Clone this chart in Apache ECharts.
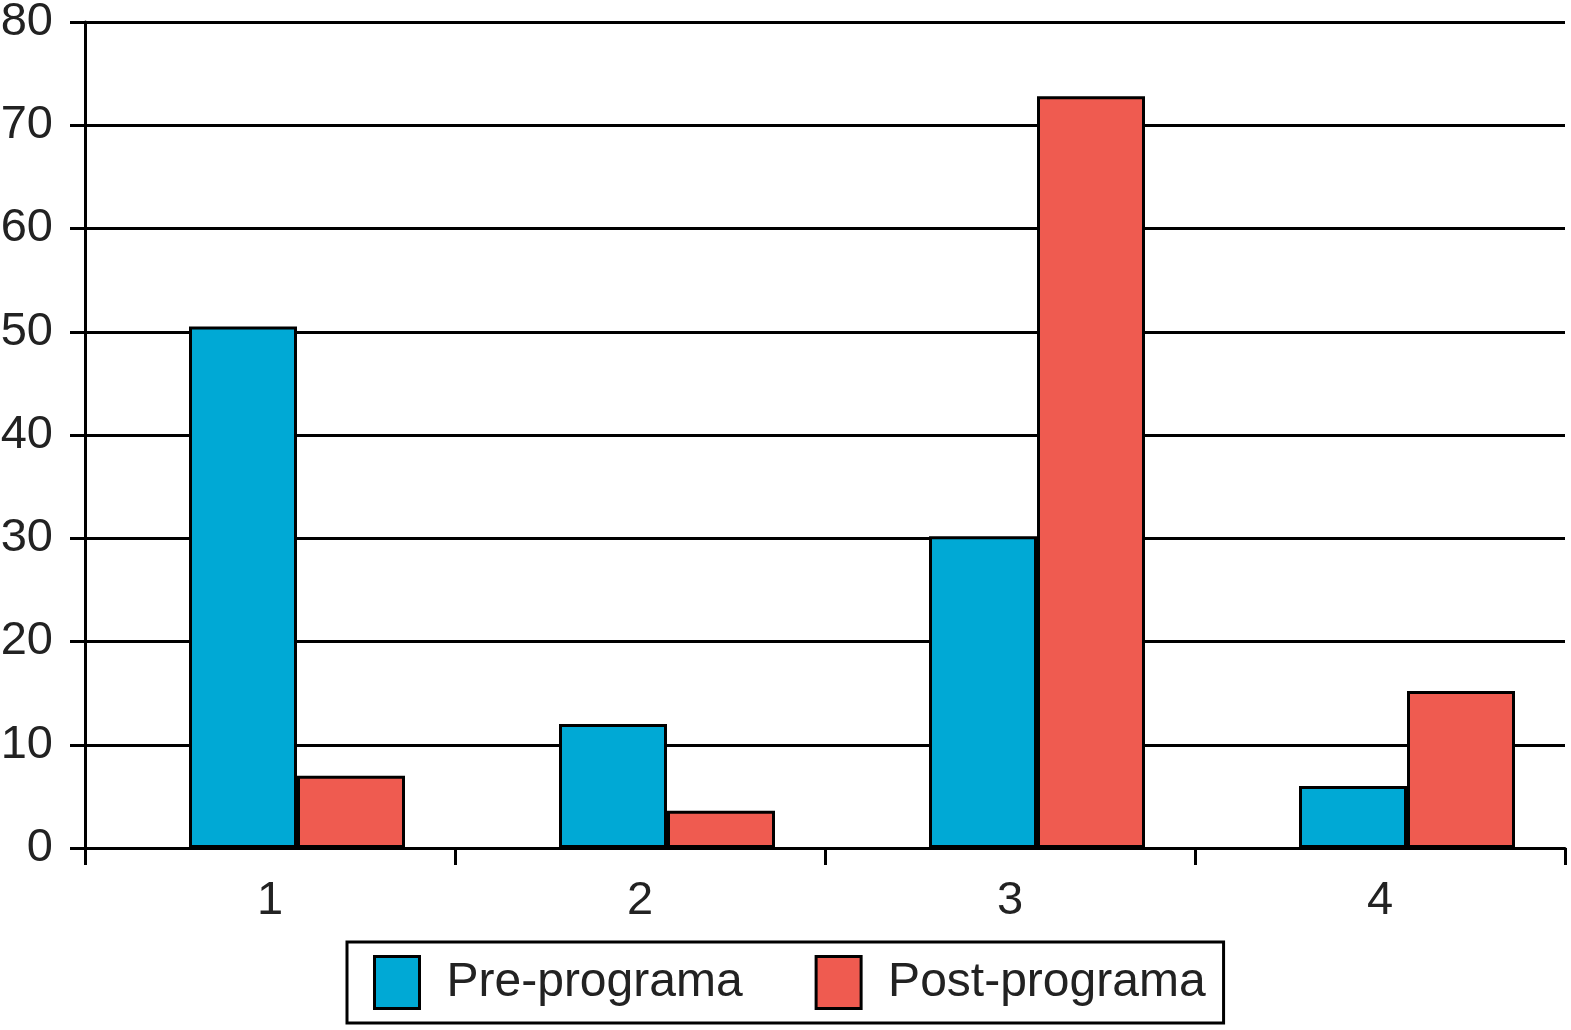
<!DOCTYPE html>
<html>
<head>
<meta charset="utf-8">
<script src="https://cdn.jsdelivr.net/npm/echarts@6/dist/echarts.min.js"></script>
<style>html,body{margin:0;padding:0;background:#fff;}#c{width:1571px;height:1030px;}</style>
</head>
<body>
<div id="c"></div>
<script>
const categories = ['1', '2', '3', '4'];
const preValues = [50.5, 12.0, 30.2, 6.0];
const postValues = [7.0, 3.6, 72.8, 15.2];
const seriesNames = ['Pre-programa', 'Post-programa'];
const yTicks = [0, 10, 20, 30, 40, 50, 60, 70, 80];

const chart = echarts.init(document.getElementById('c'), null, {renderer: 'canvas'});
const font = '"Liberation Sans", Arial, sans-serif';
const yMin = yTicks[0], yMax = yTicks[yTicks.length - 1];
chart.setOption({
  animation: false,
  backgroundColor: '#fff',
  grid: [
    {left: 85, width: 1480, top: 22, bottom: 182, outerBoundsMode: 'none', containLabel: false},
    {left: 112, width: 1480, top: 22, bottom: 182, outerBoundsMode: 'none', containLabel: false}
  ],
  legend: {
    data: seriesNames,
    left: 347, top: 942,
    orient: 'horizontal',
    icon: 'rect',
    padding: [13, 18, 13, 26],
    itemGap: 72,
    itemWidth: 45, itemHeight: 52,
    borderColor: '#000', borderWidth: 3,
    itemStyle: {borderColor: '#000', borderWidth: 3},
    textStyle: {fontFamily: font, fontSize: 48, color: '#222', padding: [0, 0, 0, 22]}
  },
  xAxis: [
    {
      type: 'category', gridIndex: 0,
      data: categories,
      axisLine: {lineStyle: {color: '#000', width: 3}},
      axisTick: {show: true, length: 17, lineStyle: {color: '#000', width: 3}},
      axisLabel: {fontFamily: font, fontSize: 47, color: '#222', margin: 30}
    },
    {
      type: 'category', gridIndex: 1, data: categories, show: false
    }
  ],
  yAxis: [
    {
      type: 'value', gridIndex: 0,
      min: yMin, max: yMax, interval: 10,
      axisLine: {show: true, lineStyle: {color: '#000', width: 3}},
      axisTick: {show: true, length: 15, lineStyle: {color: '#000', width: 3}},
      splitLine: {show: true, lineStyle: {color: '#000', width: 3}},
      axisLabel: {fontFamily: font, fontSize: 47, color: '#222', margin: 32}
    },
    {
      type: 'value', gridIndex: 1, min: yMin, max: yMax, interval: 10, show: false,
      splitLine: {show: false}
    }
  ],
  series: [
    {name: seriesNames[0], type: 'bar', xAxisIndex: 1, yAxisIndex: 1, data: preValues, barGap: '0%', barWidth: 108,
     itemStyle: {color: '#00a9d5', borderColor: '#000', borderWidth: 3}},
    {name: seriesNames[1], type: 'bar', xAxisIndex: 1, yAxisIndex: 1, data: postValues, barGap: '0%', barWidth: 108,
     itemStyle: {color: '#ef5b50', borderColor: '#000', borderWidth: 3}}
  ]
});
</script>
</body>
</html>
